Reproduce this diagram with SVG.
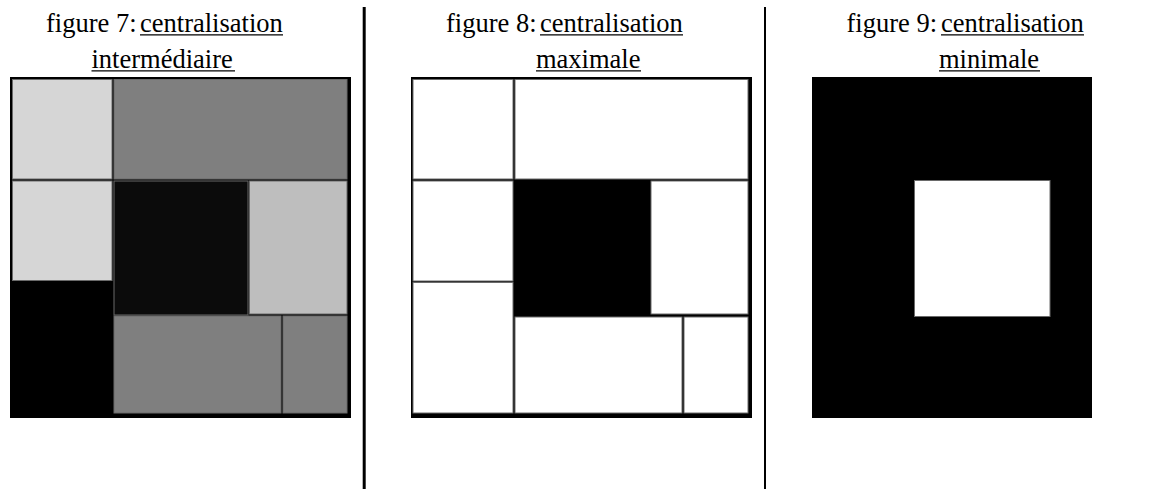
<svg xmlns="http://www.w3.org/2000/svg" width="1150" height="489" viewBox="0 0 1150 489">
<style>
text{font-family:"Liberation Serif","Times New Roman",serif;font-size:26.5px;fill:#000}
.ul{stroke:#000;stroke-width:1.3}
.frame{fill:#000}
.cell{stroke:#6a6a6a;stroke-width:1}
.div{fill:#000}
</style>
<rect width="1150" height="489" fill="#fff"/>
<g id="titles">
<text x="46" y="31.5">figure 7:</text>
<text x="140" y="31.5">centralisation</text>
<line class="ul" x1="140" y1="34.8" x2="283" y2="34.8"/>
<text x="91.5" y="67.5">intermédiaire</text>
<line class="ul" x1="91.5" y1="70.8" x2="235" y2="70.8"/>
<text x="446" y="31.5">figure 8:</text>
<text x="540" y="31.5">centralisation</text>
<line class="ul" x1="540" y1="34.8" x2="683" y2="34.8"/>
<text x="536" y="67.5">maximale</text>
<line class="ul" x1="536" y1="70.8" x2="641" y2="70.8"/>
<text x="846.5" y="31.5">figure 9:</text>
<text x="941" y="31.5">centralisation</text>
<line class="ul" x1="941" y1="34.8" x2="1084" y2="34.8"/>
<text x="939" y="67.5">minimale</text>
<line class="ul" x1="939" y1="70.8" x2="1040" y2="70.8"/>
</g>
<g id="fig7">
<rect class="frame" x="10" y="77" width="341" height="341"/>
<rect class="cell" x="12.5" y="79.5" width="99.5" height="99.5" fill="#d6d6d6"/>
<rect class="cell" x="114" y="79.5" width="233" height="99.5" fill="#7f7f7f"/>
<rect class="cell" x="12.5" y="181" width="99.5" height="99.5" fill="#d6d6d6"/>
<rect class="cell" x="114" y="181" width="134" height="134" fill="#0b0b0b" stroke="#111"/>
<rect class="cell" x="249.5" y="181" width="97.5" height="133" fill="#bebebe"/>
<rect class="cell" x="114" y="316" width="167" height="97" fill="#7f7f7f"/>
<rect class="cell" x="283" y="316" width="64" height="97" fill="#7f7f7f"/>
</g>
<g id="fig8">
<rect class="frame" x="411" y="77" width="341" height="341"/>
<rect class="cell" x="413" y="79.5" width="100" height="99.5" fill="#fff"/>
<rect class="cell" x="515" y="79.5" width="233" height="99.5" fill="#fff"/>
<rect class="cell" x="413" y="181" width="100" height="100" fill="#fff"/>
<rect x="515" y="181" width="135" height="135" fill="#000"/>
<rect class="cell" x="651" y="181" width="97" height="133" fill="#fff"/>
<rect class="cell" x="413" y="282.5" width="100" height="130.5" fill="#fff"/>
<rect class="cell" x="515" y="317" width="167" height="96" fill="#fff"/>
<rect class="cell" x="684" y="317" width="64" height="96" fill="#fff"/>
</g>
<g id="fig9">
<rect class="frame" x="812" y="77" width="280" height="341"/>
<rect class="cell" x="914.5" y="180.5" width="135.5" height="136" fill="#fff"/>
</g>
<g id="dividers">
<rect class="div" x="362.7" y="7" width="3" height="482"/>
<rect class="div" x="764" y="7" width="2" height="482"/>
</g>
</svg>
